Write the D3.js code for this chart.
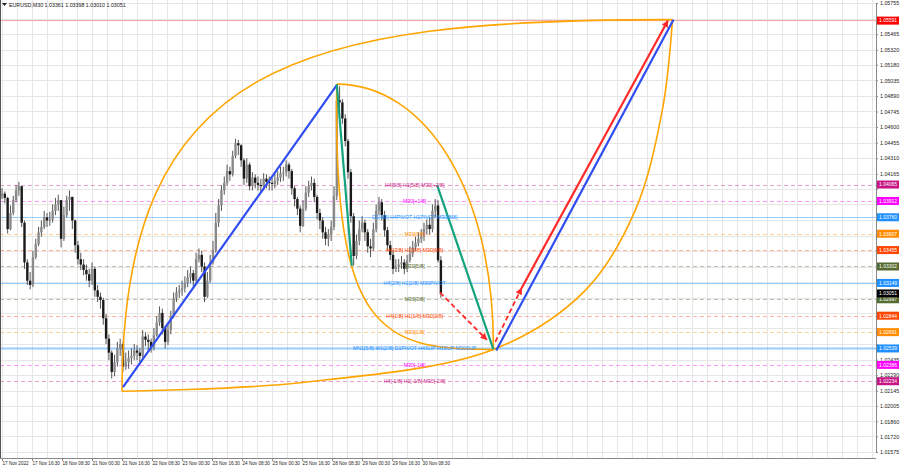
<!DOCTYPE html>
<html><head><meta charset="utf-8">
<script src="https://cdn.jsdelivr.net/npm/d3@7"></script>
<style>
body{margin:0;background:#fff;}
svg{display:block;font-family:"Liberation Sans",Arial,sans-serif;}
</style></head>
<body><svg id="c" width="900" height="468"></svg>
<script>
// ---------- DATA ----------
const symbolTitle = "EURUSD,M30  1.03361 1.03398 1.03010 1.03051";
const firstOpen = 1.0396;
// one candle every 3 M30 bars
const closes = [1.0398,1.0394,1.0365,1.0380,1.0392,1.0401,1.0405,1.0371,1.0334,1.0317,
1.0313,1.0339,1.0351,1.0362,1.0367,1.0376,1.0373,1.0374,1.0382,1.0388,
1.0392,1.0356,1.0378,1.0392,1.0395,1.0373,1.0350,1.0337,1.0332,1.0327,
1.0323,1.0317,1.0328,1.0308,1.0302,1.0299,1.0282,1.0263,1.0250,1.0232,
1.0241,1.0254,1.0258,1.0237,1.0241,1.0245,1.0247,1.0252,1.0250,1.0247,
1.0265,1.0262,1.0260,1.0255,1.0266,1.0278,1.0287,1.0273,1.0260,1.0271,
1.0284,1.0301,1.0306,1.0308,1.0310,1.0315,1.0320,1.0324,1.0317,1.0337,
1.0341,1.0330,1.0302,1.0317,1.0334,1.0345,1.0371,1.0387,1.0401,1.0408,
1.0419,1.0416,1.0433,1.0445,1.0443,1.0429,1.0412,1.0425,1.0405,1.0413,
1.0408,1.0406,1.0405,1.0412,1.0409,1.0408,1.0407,1.0410,1.0413,1.0417,
1.0418,1.0425,1.0419,1.0403,1.0393,1.0384,1.0368,1.0384,1.0399,1.0405,
1.0408,1.0395,1.0380,1.0373,1.0362,1.0356,1.0360,1.0367,1.0396,1.0485,
1.0483,1.0468,1.0447,1.0418,1.0377,1.0340,1.0354,1.0365,1.0371,1.0362,
1.0349,1.0347,1.0365,1.0382,1.0390,1.0378,1.0364,1.0350,1.0341,1.0328,
1.0330,1.0332,1.0334,1.0328,1.0336,1.0342,1.0348,1.0352,1.0356,1.0358,
1.0365,1.0369,1.0365,1.0382,1.0387,1.0336,1.03051];
const highs = [1.0403,1.0400,1.0395,1.0387,1.0396,1.0406,1.0409,1.0405,1.0373,1.0337,
1.0325,1.0345,1.0356,1.0367,1.0373,1.0382,1.0380,1.0381,1.0388,1.0394,
1.0397,1.0392,1.0386,1.0396,1.0401,1.0395,1.0374,1.0354,1.0343,1.0337,
1.0332,1.0328,1.0334,1.0330,1.0313,1.0306,1.0301,1.0286,1.0267,1.0252,
1.0248,1.0260,1.0263,1.0260,1.0250,1.0252,1.0254,1.0258,1.0257,1.0254,
1.0271,1.0269,1.0267,1.0263,1.0273,1.0284,1.0293,1.0291,1.0275,1.0278,
1.0289,1.0306,1.0311,1.0313,1.0317,1.0321,1.0327,1.0330,1.0327,1.0343,
1.0347,1.0345,1.0334,1.0325,1.0341,1.0354,1.0380,1.0393,1.0406,1.0414,
1.0425,1.0423,1.0438,1.0449,1.0448,1.0444,1.0431,1.0431,1.0427,1.0418,
1.0416,1.0414,1.0412,1.0417,1.0416,1.0414,1.0414,1.0417,1.0419,1.0423,
1.0423,1.0429,1.0427,1.0421,1.0405,1.0395,1.0387,1.0392,1.0405,1.0410,
1.0414,1.0412,1.0397,1.0384,1.0376,1.0367,1.0365,1.0373,1.0405,1.0499,
1.0498,1.0486,1.0472,1.0449,1.0421,1.0380,1.0360,1.0373,1.0377,1.0374,
1.0365,1.0356,1.0371,1.0388,1.0395,1.0393,1.0382,1.0367,1.0354,1.0345,
1.0337,1.0337,1.0340,1.0337,1.0341,1.0349,1.0354,1.0358,1.0362,1.0365,
1.0371,1.0374,1.0376,1.0388,1.0393,1.0392,1.03398];
const lows = [1.0393,1.0389,1.0361,1.0364,1.0378,1.0390,1.0396,1.0367,1.0328,1.0313,
1.0309,1.0311,1.0337,1.0349,1.0358,1.0365,1.0367,1.0368,1.0371,1.0378,
1.0382,1.0348,1.0354,1.0376,1.0382,1.0365,1.0343,1.0332,1.0327,1.0322,
1.0317,1.0311,1.0313,1.0302,1.0297,1.0291,1.0276,1.0258,1.0243,1.0226,
1.0228,1.0237,1.0247,1.0232,1.0234,1.0235,1.0239,1.0243,1.0243,1.0241,
1.0245,1.0256,1.0252,1.0250,1.0252,1.0265,1.0275,1.0267,1.0254,1.0257,
1.0267,1.0282,1.0297,1.0301,1.0303,1.0306,1.0311,1.0315,1.0311,1.0315,
1.0334,1.0325,1.0297,1.0301,1.0315,1.0332,1.0343,1.0367,1.0382,1.0397,
1.0406,1.0410,1.0414,1.0431,1.0434,1.0423,1.0406,1.0408,1.0401,1.0401,
1.0403,1.0401,1.0399,1.0401,1.0403,1.0401,1.0401,1.0403,1.0406,1.0409,
1.0410,1.0414,1.0412,1.0397,1.0386,1.0378,1.0362,1.0367,1.0382,1.0395,
1.0401,1.0390,1.0374,1.0365,1.0356,1.0350,1.0349,1.0354,1.0364,1.0392,
1.0475,1.0463,1.0442,1.0412,1.0371,1.0331,1.0337,1.0350,1.0362,1.0354,
1.0343,1.0339,1.0345,1.0362,1.0378,1.0373,1.0358,1.0345,1.0336,1.0323,
1.0325,1.0325,1.0328,1.0323,1.0325,1.0334,1.0339,1.0345,1.0349,1.0352,
1.0354,1.0360,1.0360,1.0362,1.0376,1.0334,1.03010];
const barsPerCandle = 3;

const timeLabels = ["17 Nov 2022","17 Nov 16:30","18 Nov 08:30","21 Nov 00:30","21 Nov 16:30",
"22 Nov 08:30","23 Nov 00:30","23 Nov 16:30","24 Nov 08:30","25 Nov 00:30","25 Nov 16:30",
"28 Nov 08:30","29 Nov 00:30","29 Nov 16:30","30 Nov 08:30"];
const barsPerTimeLabel = 32;

const priceTicks = [1.05755,1.05610,1.05465,1.05320,1.05180,1.05035,1.04890,1.04745,1.04600,1.04455,
1.04310,1.04165,1.04025,1.03880,1.03735,1.03590,1.03445,1.03300,1.03155,1.03010,1.02870,1.02725,
1.02580,1.02435,1.02290,1.02145,1.02005,1.01860,1.01720,1.01575];

// Murrey levels
const levelPrices = [1.04065,1.03912,1.03760,1.03607,1.03455,1.03302,1.03149,1.02997,1.02844,1.02691,1.02539,1.02386,1.02234];
const levelNames = ["H4[5/8] H1[5/8] M30[+2/8]","M30[+1/8]","D1[4/8] H4PIVOT H1PIVOT M30[8/8]","M30[7/8]",
"H4[3/8] H1[3/8] M30[6/8]","M30[5/8]","H4[2/8] H1[2/8] M30PIVOT","M30[3/8]","H4[1/8] H1[1/8] M30[2/8]",
"M30[1/8]","MN1[5/8] W1[2/8] D1PIVOT H4SUP H1SUP M30SUP","M30[-1/8]","H4[-1/8] H1[-1/8] M30[-2/8]"];
const topLevel = 1.05591;
const bidPrice = 1.03051;

// pattern points [bar, price]
const ptA = [128, 1.0214], ptB = [357, 1.0500], ptC = [373, 1.0331];
const ptC2 = [464, 1.0406], ptD = [524, 1.0253], ptE = [715, 1.0560];
const blueLeg1 = [[129, 1.0218],[357, 1.0499]];
const blueLeg2 = [[527, 1.0252],[716, 1.0560]];
const redDash1 = [[467, 1.0306],[517, 1.0262]];
const redDash2 = [[526, 1.0260],[554, 1.0310]];
const redSolid = [[554, 1.0310],[710, 1.0559]];
// arcs: cubic bezier [P0,P1,P2,P3] or through-points
const arcBigUpper = [ptA,[128,1.0522],[318,1.0560],ptE];
const arcBigLowerPts = [ptA,[318,1.0222],ptD,[622,1.0308],[675,1.0382],[704,1.0475],ptE];
const arcSmallLeft = [ptB,[353,1.0271],[403,1.0252],ptD];
const arcSmallRight = [ptB,[451,1.0500],[525,1.0401],ptD];

// ---------- STYLES ----------
const levelColors = ["#c71585","#ff00ff","#1e90ff","#ff8c00","#ff4500","#556b2f","#1e90ff","#556b2f","#ff4500","#ff8c00","#1e90ff","#ff00ff","#c71585"];
const levelSolid  = [false,false,true,false,false,false,true,false,false,false,true,false,false];
const levelWidth  = [1,1,1,1,1,1,1,1,1,1,2,1,1];

// ---------- CHART ----------
const W = 900, H = 468, plotR = 876, plotB = 458;
const svg = d3.select("#c");
const x = d3.scaleLinear().domain([0, 932]).range([2, 876]);
const y = d3.scaleLinear().domain([1.01575, 1.05755]).range([452, 3]);

// grid
const g = svg.append("g");
g.selectAll("line.hg").data(priceTicks).join("line")
  .attr("x1",0).attr("x2",plotR).attr("y1",d=>Math.round(y(d))+0.5).attr("y2",d=>Math.round(y(d))+0.5)
  .attr("stroke","#e6e6e6").attr("stroke-width",1);
g.selectAll("line.vg").data(d3.range(0, 932, 16)).join("line")
  .attr("y1",0).attr("y2",plotB).attr("x1",d=>Math.round(x(d))+0.5).attr("x2",d=>Math.round(x(d))+0.5)
  .attr("stroke","#e6e6e6").attr("stroke-width",1);

// top level line
svg.append("line").attr("x1",0).attr("x2",plotR).attr("y1",y(topLevel)).attr("y2",y(topLevel))
  .attr("stroke","#f4a0a0").attr("stroke-width",1);

// murrey level lines
svg.append("g").selectAll("line").data(levelPrices).join("line")
  .attr("x1",0).attr("x2",plotR)
  .attr("y1",d=>Math.round(y(d))+0.5).attr("y2",d=>Math.round(y(d))+0.5)
  .attr("stroke",(d,i)=>levelColors[i])
  .attr("stroke-opacity",(d,i)=>levelSolid[i]?0.45:0.4)
  .attr("stroke-width",(d,i)=>levelWidth[i])
  .attr("stroke-dasharray",(d,i)=>levelSolid[i]?null:"4,3");

// candles
const candles = closes.map((c,i)=>({i, o: i===0?firstOpen:closes[i-1], h: highs[i], l: lows[i], c}));
const cg = svg.append("g");
cg.selectAll("line").data(candles).join("line")
  .attr("x1",d=>x(d.i*barsPerCandle)).attr("x2",d=>x(d.i*barsPerCandle))
  .attr("y1",d=>y(d.h)).attr("y2",d=>y(d.l))
  .attr("stroke","#555").attr("stroke-width",1);
cg.selectAll("rect").data(candles).join("rect")
  .attr("x",d=>x(d.i*barsPerCandle)-1.2).attr("width",2.4)
  .attr("y",d=>y(Math.max(d.o,d.c)))
  .attr("height",d=>Math.max(1, Math.abs(y(d.o)-y(d.c))))
  .attr("fill",d=>d.c>=d.o?"#8a8a8a":"#1a1a1a");

// helpers
const P = p => [x(p[0]), y(p[1])];
function bezier(pts){ const [a,b,c,d]=pts.map(P); return `M${a[0]},${a[1]} C${b[0]},${b[1]} ${c[0]},${c[1]} ${d[0]},${d[1]}`; }
const line = d3.line().x(d=>x(d[0])).y(d=>y(d[1]));
const smooth = d3.line().x(d=>x(d[0])).y(d=>y(d[1])).curve(d3.curveCatmullRom.alpha(0.5));

// orange arcs
const og = svg.append("g").attr("fill","none").attr("stroke","#ffa500").attr("stroke-width",1.6);
[arcBigUpper, arcSmallLeft, arcSmallRight].forEach(a=>og.append("path").attr("d",bezier(a)));
og.append("path").attr("d",smooth(arcBigLowerPts));

// defs arrow
svg.append("defs").append("marker").attr("id","arr").attr("viewBox","0 0 10 10").attr("refX",9).attr("refY",5)
  .attr("markerWidth",7).attr("markerHeight",7).attr("orient","auto-start-reverse").attr("markerUnits","userSpaceOnUse")
  .append("path").attr("d","M0,0 L10,5 L0,10 z").attr("fill","#ff2a2a");

// blue legs
svg.append("path").attr("d",line(blueLeg1)).attr("stroke","#2f4df0").attr("stroke-width",2.2).attr("fill","none");
svg.append("path").attr("d",line(blueLeg2)).attr("stroke","#2f4df0").attr("stroke-width",2.2).attr("fill","none");
// teal legs
svg.append("path").attr("d",line([ptB,ptC])).attr("stroke","#14a37f").attr("stroke-width",2.2).attr("fill","none");
svg.append("path").attr("d",line([ptC2,ptD])).attr("stroke","#14a37f").attr("stroke-width",2.2).attr("fill","none");
// red arrows
svg.append("path").attr("d",line(redDash1)).attr("stroke","#ff2a2a").attr("stroke-width",1.8).attr("fill","none")
  .attr("stroke-dasharray","5,3").attr("marker-end","url(#arr)");
svg.append("path").attr("d",line(redDash2)).attr("stroke","#ff2a2a").attr("stroke-width",1.8).attr("fill","none")
  .attr("stroke-dasharray","5,3").attr("marker-end","url(#arr)");
svg.append("path").attr("d",line(redSolid)).attr("stroke","#ff2a2a").attr("stroke-width",2.2).attr("fill","none")
  .attr("marker-end","url(#arr)");

// level labels
svg.append("g").selectAll("text").data(levelPrices).join("text")
  .attr("x",x(440)).attr("y",d=>y(d)+2)
  .attr("text-anchor","middle").attr("font-size",5.2)
  .attr("fill",(d,i)=>levelColors[i]).text((d,i)=>levelNames[i]);

// right axis
svg.append("rect").attr("x",plotR).attr("y",0).attr("width",W-plotR).attr("height",H).attr("fill","#fff");
svg.append("rect").attr("x",0).attr("y",plotB).attr("width",plotR).attr("height",H-plotB).attr("fill","#fff");
// price tags
const tagData = levelPrices.map((p,i)=>({p, c: levelColors[i]}));
tagData.unshift({p: topLevel, c: "#ff0000"});
tagData.push({p: bidPrice, c: "#000000"});
// tick labels hidden under a price tag are not drawn (as in the reference)
const visibleTicks = priceTicks.filter(t => !tagData.some(d => Math.abs(y(d.p)-y(t)) < 4.8));
const yAxis = d3.axisRight(y).tickValues(priceTicks).tickFormat(d => visibleTicks.includes(d) ? d3.format(".5f")(d) : "")
  .tickSize(2).tickPadding(2);
const ya = svg.append("g").attr("transform",`translate(${plotR},0)`).call(yAxis);
ya.select(".domain").attr("stroke","#888");
ya.selectAll("text").attr("font-size",5.3).attr("font-family","'Liberation Sans',Arial,sans-serif").attr("fill","#222");
ya.selectAll(".tick line").attr("stroke","#888");

// bottom axis
const xAxis = d3.axisBottom(x).tickValues(timeLabels.map((t,i)=>i*barsPerTimeLabel))
  .tickFormat((d,i)=>timeLabels[i]).tickSize(3).tickPadding(1);
const xa = svg.append("g").attr("transform",`translate(0,${plotB})`).call(xAxis);
xa.select(".domain").attr("stroke","#888").attr("d",`M0,0.5H${plotR}`);
xa.selectAll("text").attr("font-size",4.6).attr("text-anchor","start").attr("fill","#222")
  .attr("font-family","'Liberation Sans',Arial,sans-serif");
xa.selectAll(".tick line").attr("stroke","#888");

const tg = svg.append("g").selectAll("g").data(tagData).join("g")
  .attr("transform",d=>`translate(${plotR+1},${y(d.p)})`);
tg.append("rect").attr("x",0).attr("y",-4).attr("width",22).attr("height",8).attr("fill",d=>d.c);
tg.append("text").attr("x",2).attr("y",1.8).attr("font-size",5).attr("fill","#fff").text(d=>d3.format(".5f")(d.p));

// left border & title
svg.append("line").attr("x1",0.5).attr("x2",0.5).attr("y1",0).attr("y2",plotB).attr("stroke","#555");
svg.append("path").attr("d","M2,3 L7,3 L4.5,6 z").attr("fill","#222");
svg.append("text").attr("x",9).attr("y",7).attr("font-size",5.3).attr("fill","#222").text(symbolTitle);
</script></body></html>
